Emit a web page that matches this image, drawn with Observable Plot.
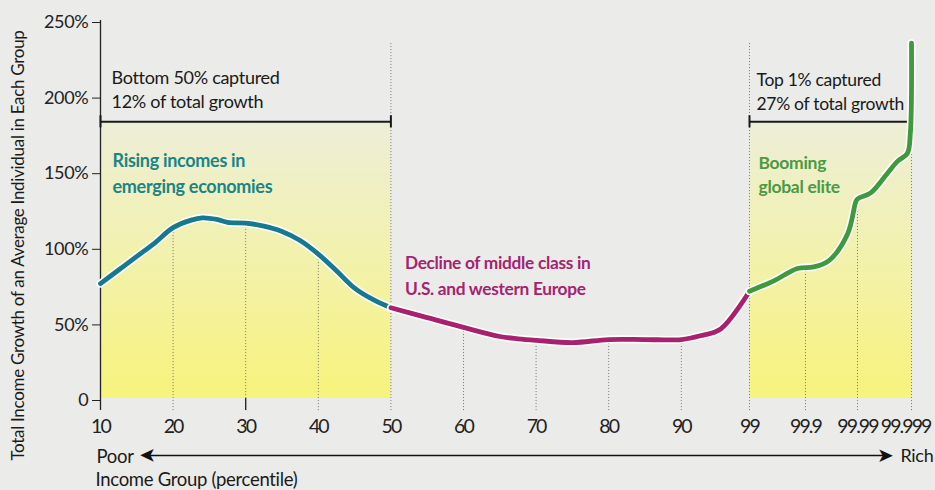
<!DOCTYPE html>
<html><head><meta charset="utf-8">
<script src="https://cdn.jsdelivr.net/npm/d3@7"></script>
<script src="https://cdn.jsdelivr.net/npm/@observablehq/plot@0.6"></script>
<style>
html,body{margin:0;padding:0;background:#ebebe9;}
#chart{width:935px;height:490px;overflow:hidden;}
svg{display:block;}
svg text{letter-spacing:-0.3px;}
svg g[aria-label="x-axis tick label"] text, svg g.xlast text{letter-spacing:-1.9px;}
</style></head><body><div id="chart"></div>
<script>
// Percentile tick labels on the x axis
const percentileTicks = [10,20,30,40,50,60,70,80,90,99,99.9,99.99,99.999];
// Y tick values (%)
const growthTicks = [0,50,100,150,200,250];

// Series: emerging economies (teal)
const emergingP = [10,12.5,15,17.5,20,22.5,24,26,27.5,30,32.5,35,37.5,40,42.5,45,47.5,50];
const emergingV = [76,85,94,103,113,118,119.5,118.5,116.5,116,114,110.5,104.5,95.5,84.5,73,65.5,60];
// Series: middle class (magenta)
const middleP = [50,55,60,65,67.5,70,75,80,85,90,92.5,95.2,99];
const middleV = [60,53.5,47,41,39.5,38.5,37,39,39,39,41.5,46,71];
// Series: global elite (green)
const eliteP = [99,99.4,99.77,99.914,99.94,99.973,99.987,99.99,99.9922,99.995,99.9967,99.9983,99.9988,99.999];
const eliteV = [71,78,86,87,91,109,130,132,136,149,157,162,175,235];

// Dotted guide lines: percentile and the value where each starts
const guideP = [20,30,40,50,60,70,80,90,99,99.9,99.99,99.999];
const guideTop = [113,116,95.5,235,47,38.5,39,39,235,86,132,235];

// Highlighted groups (bottom 50%, top 1%) and bracket level
const groupStart = [10, 99];
const groupEnd = [50, 99.999];
const bracketLevel = 183;

const toRows = (P, V) => P.map((p, i) => ({p, v: V[i]}));
const emerging = toRows(emergingP, emergingV);
const middle = toRows(middleP, middleV);
const elite = toRows(eliteP, eliteV);
const guides = toRows(guideP, guideTop);
const groups = groupStart.map((s, i) => ({s, e: groupEnd[i]}));
const caps = groupStart.concat(groupEnd);
const lastTick = percentileTicks[percentileTicks.length - 1];

const TEAL = "#17798d", MAG = "#a8216f", GREEN = "#3e9a3c";
const FONT = "Lato, 'Open Sans', sans-serif";
const ARROW_Y = -37.7;

const defs = () => {
  const ns = "http://www.w3.org/2000/svg";
  const d = document.createElementNS(ns, "defs");
  d.innerHTML = `<linearGradient id="yg" x1="0" y1="0" x2="0" y2="1">
    <stop offset="0" stop-color="#edeed8"/>
    <stop offset="0.45" stop-color="#f2f1b0"/>
    <stop offset="1" stop-color="#f7f37c"/></linearGradient>`;
  return d;
};

const curveLine = (data, color) => [
  Plot.line(data, {x: "p", y: "v", stroke: "white", strokeWidth: 8, curve: "catmull-rom"}),
  Plot.line(data, {x: "p", y: "v", stroke: color, strokeWidth: 4.8, curve: "catmull-rom"})
];

const chart = Plot.plot({
  width: 935, height: 490,
  marginTop: 20, marginBottom: 92, marginLeft: 100, marginRight: 24,
  style: {fontFamily: FONT, background: "#ebebe9", color: "#222", overflow: "visible"},
  x: {type: "linear", domain: percentileTicks,
      range: [100,172.6,245.2,317.8,390.4,463,535.6,608.2,680.8,749,805,857,911]},
  y: {domain: [0, 250]},
  marks: [
    defs,
    Plot.rect(groups, {x1: "s", x2: "e", y1: 0, y2: bracketLevel, fill: "url(#yg)"}),
    Plot.ruleX(guides, {x: "p", y1: -8, y2: "v", stroke: "#777", strokeWidth: 1, strokeDasharray: "1,2"}),
    Plot.ruleX([10], {y1: -8, y2: 250, stroke: "#222", strokeWidth: 1.3}),
    Plot.ruleX([30], {y1: 0, y2: -8, stroke: "#222", strokeWidth: 1.3}),
    Plot.axisY(growthTicks, {tickSize: 8, tickPadding: 4, fontSize: 18, dy: 2,
      tickFormat: d => d === 0 ? "0" : d + "%", label: null, stroke: "#222"}),
    Plot.axisX(percentileTicks.slice(0, -1), {tickSize: 0, tickPadding: 21, fontSize: 19.5,
      tickFormat: d => String(d), label: null}),
    Plot.text([lastTick], {x: d => d, y: 0, dy: 21, dx: 19, textAnchor: "end", lineAnchor: "top",
      text: d => String(d), fontSize: 19.5, fill: "#222", className: "xlast"}),
    Plot.ruleY(groups, {x1: "s", x2: "e", y: bracketLevel, stroke: "#1a1a1a", strokeWidth: 2}),
    Plot.ruleX(caps, {x: d => d, y1: bracketLevel - 4, y2: bracketLevel + 4, stroke: "#1a1a1a", strokeWidth: 2}),
    ...curveLine(emerging, TEAL),
    ...curveLine(middle, MAG),
    ...curveLine(elite, GREEN),
    Plot.text(["Bottom 50% captured\n12% of total growth"], {x: 10, y: 219.5, dx: 11, textAnchor: "start", lineAnchor: "top", fontSize: 18, lineHeight: 1.35, fill: "#1a1a1a"}),
    Plot.text(["Top 1% captured\n27% of total growth"], {x: 99, y: 218, dx: 7, textAnchor: "start", lineAnchor: "top", fontSize: 17.5, lineHeight: 1.38, fill: "#1a1a1a"}),
    Plot.text(["Rising incomes in\nemerging economies"], {x: 10, y: 164.7, dx: 12, textAnchor: "start", lineAnchor: "top", fontSize: 18, fontWeight: 700, lineHeight: 1.4, fill: "#1b8585"}),
    Plot.text(["Decline of middle class in\nU.S. and western Europe"], {x: 50, y: 97.2, dx: 14, textAnchor: "start", lineAnchor: "top", fontSize: 17.3, fontWeight: 700, lineHeight: 1.46, fill: "#a3246f"}),
    Plot.text(["Booming\nglobal elite"], {x: 99, y: 163.7, dx: 9, textAnchor: "start", lineAnchor: "top", fontSize: 17.5, fontWeight: 700, lineHeight: 1.42, fill: "#4a9a42"}),
    Plot.ruleY([ARROW_Y], {x1: 10, x2: lastTick, insetLeft: 46, insetRight: 26, stroke: "#111", strokeWidth: 1.7}),
    Plot.text(["\u27A4"], {x: 10, y: ARROW_Y, dx: 39, textAnchor: "end", rotate: 180, fontSize: 20, fontFamily: "DejaVu Sans", fill: "#111"}),
    Plot.text(["\u27A4"], {x: lastTick, y: ARROW_Y, dx: -18, textAnchor: "end", fontSize: 20, fontFamily: "DejaVu Sans", fill: "#111"}),
    Plot.text(["Poor"], {x: 10, y: -33.7, dx: -4, textAnchor: "start", lineAnchor: "top", fontSize: 18.5, fill: "#1a1a1a"}),
    Plot.text(["Rich"], {x: lastTick, y: -33.7, dx: -11, textAnchor: "start", lineAnchor: "top", fontSize: 18, fill: "#1a1a1a"}),
    Plot.text(["Income Group (percentile)"], {x: 10, y: -49.2, dx: -5, textAnchor: "start", lineAnchor: "top", fontSize: 18.5, fill: "#1a1a1a"}),
    Plot.text(["Total Income Growth of an Average Individual in Each Group"], {x: -1.3, y: 101.2, rotate: -90, fontSize: 17, fill: "#1a1a1a"})
  ]
});
document.getElementById("chart").appendChild(chart);
</script></body></html>
